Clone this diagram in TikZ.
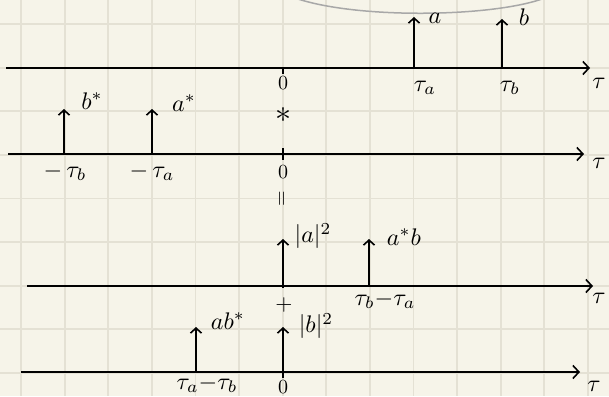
\documentclass[tikz,border=0pt]{standalone}
\usetikzlibrary{arrows.meta}
\definecolor{paper}{HTML}{F6F4E9}
\definecolor{gridc}{HTML}{E4E1D4}
\definecolor{arcgray}{HTML}{A8A8A8}
\begin{document}
\begin{tikzpicture}[x=1pt,y=-1pt,
  axis/.style={line width=1.8pt, -{Straight Barb[length=6pt,width=13pt,line width=1.6pt]}},
  spike/.style={line width=1.8pt, -{Straight Barb[length=5pt,width=11pt,line width=1.6pt]}},
  tick/.style={line width=1.6pt},
  lab/.style={inner sep=0pt, scale=2.4},
  small/.style={inner sep=0pt, scale=2.0}]
\fill[paper] (0,0) rectangle (609,396);
\useasboundingbox (0,0) rectangle (609,396);
% grid
\foreach \i in {0,...,13} \draw[gridc, line width=1.8pt] ({21+43.6*\i},0) -- ({21+43.6*\i},396);
\foreach \j in {0,...,8} \draw[gridc, line width=1.8pt] (0,{24+43.6*\j}) -- (609,{24+43.6*\j});
% gray arc at top
\draw[arcgray, line width=1.5pt] (298,-1) .. controls (360,19) and (490,17) .. (542,-1);
% axis 1
\coordinate (a1s) at (6,68); \coordinate (a1e) at (590,68);
\draw[axis] (a1s) -- (a1e);
\node[lab] (t1) at (599,83) {$\tau$};
\coordinate (k1a) at (283,68); \coordinate (k1b) at (283,74);
\draw[tick] (k1a) -- (k1b);
\node[small] (z1) at (283,83) {$0$};
\coordinate (pa) at (414,68); \coordinate (pat) at (414,17);
\draw[spike] (pa) -- (pat);
\node[lab] (la) at (435,18) {$a$};
\coordinate (pb) at (502,68); \coordinate (pbt) at (502,19);
\draw[spike] (pb) -- (pbt);
\node[lab] (lb) at (524,17) {$b$};
\node[lab] (ta) at (425,88) {$\tau_a$};
\node[lab] (tb) at (510,88) {$\tau_b$};
% convolution star
\node[inner sep=0pt, scale=3.2] (conv) at (283,115) {$\ast$};
% axis 2
\coordinate (a2s) at (8,154); \coordinate (a2e) at (584,154);
\draw[axis] (a2s) -- (a2e);
\node[lab] (t2) at (599,163) {$\tau$};
\coordinate (k2a) at (283,148); \coordinate (k2b) at (283,160);
\draw[tick] (k2a) -- (k2b);
\node[small] (z2) at (283,172) {$0$};
\coordinate (pbs) at (64,154); \coordinate (pbst) at (64,109);
\draw[spike] (pbs) -- (pbst);
\node[lab] (lbs) at (92,101) {$b^*$};
\coordinate (pas) at (152,154); \coordinate (past) at (152,109);
\draw[spike] (pas) -- (past);
\node[lab] (las) at (184,103) {$a^*$};
\node[lab] (mtb) at (65,172) {${-}\,\tau_b$};
\node[lab] (mta) at (152,172) {${-}\,\tau_a$};
% equals sign
\node[inner sep=0pt, scale=2.0, rotate=90] (eq) at (283,199) {$=$};
% axis 3
\coordinate (a3s) at (27,286); \coordinate (a3e) at (593,286);
\draw[axis] (a3s) -- (a3e);
\node[lab] (t3) at (599,298) {$\tau$};
\coordinate (paa) at (283,288); \coordinate (paat) at (283,239);
\draw[spike] (paa) -- (paat);
\node[lab] (laa) at (313,236) {$|a|^2$};
\coordinate (pab) at (369,286); \coordinate (pabt) at (369,239);
\draw[spike] (pab) -- (pabt);
\node[lab] (lab1) at (404,237) {$a^*b$};
\node[lab] (tba) at (385,300) {$\tau_b{-}\tau_a$};
\node[inner sep=0pt, scale=2.2] (plus) at (284,305) {$+$};
% axis 4
\coordinate (a4s) at (21,372); \coordinate (a4e) at (580,372);
\draw[axis] (a4s) -- (a4e);
\node[lab] (t4) at (594,386) {$\tau$};
\coordinate (pba) at (196,372); \coordinate (pbat) at (196,327);
\draw[spike] (pba) -- (pbat);
\node[lab] (lba) at (228,321) {$ab^*$};
\coordinate (pbb) at (283,378); \coordinate (pbbt) at (283,327);
\draw[spike] (pbb) -- (pbbt);
\node[lab] (lbb) at (316,326) {$|b|^2$};
\node[lab] (tab) at (207,384) {$\tau_a{-}\tau_b$};
\node[small] (z4) at (283,387) {$0$};
\end{tikzpicture}
\end{document}
